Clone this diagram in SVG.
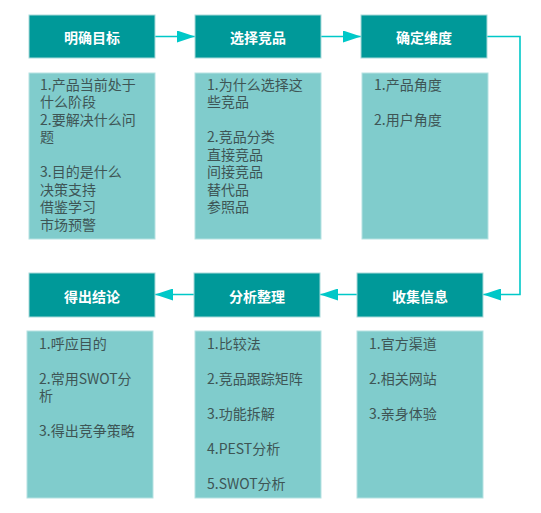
<svg xmlns="http://www.w3.org/2000/svg" width="541" height="513" viewBox="0 0 541 513">
<style>
.hd{fill:#009999;stroke:#a9dada;stroke-width:1}
.bd{fill:#80cccc;stroke:#b5e2e2;stroke-width:1}
.ht{font-family:"Noto Sans CJK SC","Microsoft YaHei",sans-serif;font-size:14px;font-weight:bold;fill:#ffffff;text-anchor:middle}
.bt{font-family:"Noto Sans CJK SC","Microsoft YaHei",sans-serif;font-size:14px;fill:#3e5555}
.cn{fill:none;stroke:#00c8c8;stroke-width:1.6}
</style>
<defs>
<marker id="ah" markerUnits="userSpaceOnUse" markerWidth="18" markerHeight="12" refX="18" refY="6" orient="auto">
<path d="M0,0 L18,6 L0,12 z" fill="#00c8c8"/>
</marker>
</defs>
<rect width="541" height="513" fill="#ffffff"/>
<g id="connectors">
<path class="cn" d="M155,36.5 H195" marker-end="url(#ah)"/>
<path class="cn" d="M321,36.5 H361" marker-end="url(#ah)"/>
<path class="cn" d="M487,36.5 H520 V294.5 H483" marker-end="url(#ah)"/>
<path class="cn" d="M357,294.5 H320" marker-end="url(#ah)"/>
<path class="cn" d="M194,294.5 H155" marker-end="url(#ah)"/>
</g>
<g id="n1">
<rect class="hd" x="29" y="15" width="126" height="43"/>
<text class="ht" x="92" y="43">明确目标</text>
<rect class="bd" x="29" y="73" width="126" height="166"/>
<text class="bt"><tspan x="40" y="89.5">1.产品当前处于</tspan><tspan x="40" y="107">什么阶段</tspan><tspan x="40" y="124.5">2.要解决什么问</tspan><tspan x="40" y="142">题</tspan><tspan x="40" y="177">3.目的是什么</tspan><tspan x="40" y="194.5">决策支持</tspan><tspan x="40" y="212">借鉴学习</tspan><tspan x="40" y="229.5">市场预警</tspan></text>
</g>
<g id="n2">
<rect class="hd" x="195" y="15" width="126" height="43"/>
<text class="ht" x="258" y="43">选择竞品</text>
<rect class="bd" x="195" y="73" width="126" height="166"/>
<text class="bt"><tspan x="207" y="89.5">1.为什么选择这</tspan><tspan x="207" y="107">些竞品</tspan><tspan x="207" y="142">2.竞品分类</tspan><tspan x="207" y="159.5">直接竞品</tspan><tspan x="207" y="177">间接竞品</tspan><tspan x="207" y="194.5">替代品</tspan><tspan x="207" y="212">参照品</tspan></text>
</g>
<g id="n3">
<rect class="hd" x="361" y="15" width="126" height="43"/>
<text class="ht" x="424" y="43">确定维度</text>
<rect class="bd" x="362" y="73" width="126" height="166"/>
<text class="bt"><tspan x="374" y="89.5">1.产品角度</tspan><tspan x="374" y="124.5">2.用户角度</tspan></text>
</g>
<g id="n4">
<rect class="hd" x="29" y="273" width="126" height="44"/>
<text class="ht" x="92" y="302">得出结论</text>
<rect class="bd" x="27" y="331" width="126" height="167"/>
<text class="bt"><tspan x="39" y="348.5">1.呼应目的</tspan><tspan x="39" y="383.5">2.常用SWOT分</tspan><tspan x="39" y="401">析</tspan><tspan x="39" y="436">3.得出竞争策略</tspan></text>
</g>
<g id="n5">
<rect class="hd" x="194" y="273" width="126" height="44"/>
<text class="ht" x="257" y="302">分析整理</text>
<rect class="bd" x="195" y="331" width="126" height="167"/>
<text class="bt"><tspan x="207" y="348.5">1.比较法</tspan><tspan x="207" y="383.5">2.竞品跟踪矩阵</tspan><tspan x="207" y="418.5">3.功能拆解</tspan><tspan x="207" y="453.5">4.PEST分析</tspan><tspan x="207" y="488.5">5.SWOT分析</tspan></text>
</g>
<g id="n6">
<rect class="hd" x="357" y="273" width="126" height="44"/>
<text class="ht" x="420" y="302">收集信息</text>
<rect class="bd" x="357" y="331" width="126" height="167"/>
<text class="bt"><tspan x="369" y="348.5">1.官方渠道</tspan><tspan x="369" y="383.5">2.相关网站</tspan><tspan x="369" y="418.5">3.亲身体验</tspan></text>
</g>
</svg>
